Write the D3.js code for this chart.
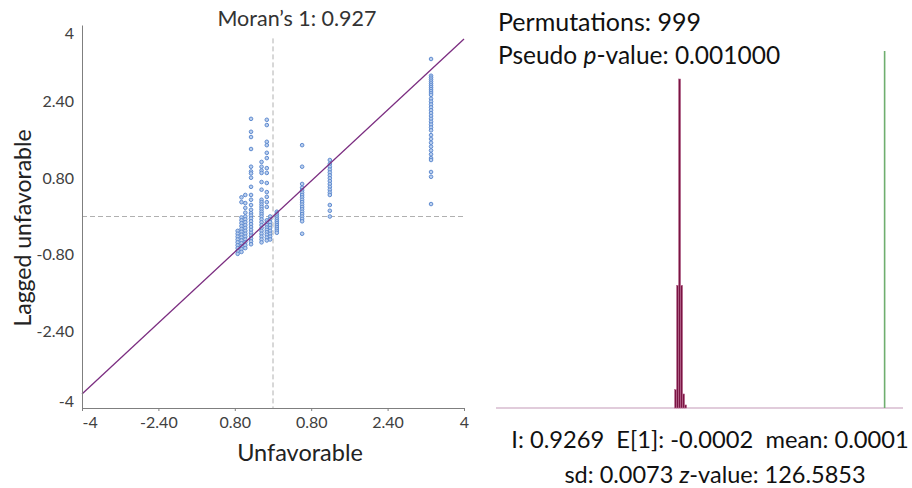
<!DOCTYPE html>
<html><head><meta charset="utf-8">
<script src="https://cdn.jsdelivr.net/npm/d3@7"></script>
<style>
html,body{margin:0;padding:0;background:#fff;}
svg{display:block;font-family:Lato,"Open Sans",sans-serif;}
</style></head>
<body><svg id="c" width="912" height="488"></svg>
<script>
// ---- data ----
const moransI = 0.927;
const xTicks = [-4, -2.4, -0.8, 0.8, 2.4, 4];
const xTickLabels = ["-4", "-2.40", "0.80", "0.80", "2.40", "4"];
const yTicks = [-4, -2.4, -0.8, 0.8, 2.4, 4];
const yTickLabels = ["-4", "-2.40", "-0.80", "0.80", "2.40", "4"];
const colX = [-0.74, -0.66, -0.58, -0.46, -0.24, -0.13, -0.06, 0.08, 0.61, 1.19, 3.31];
const colY = [
  [-0.30,-0.36,-0.42,-0.48,-0.54,-0.60,-0.66,-0.72,-0.78],
  [0.40,0.30,-0.02,-0.08,-0.14,-0.20,-0.26,-0.32,-0.38,-0.44,-0.50,-0.56,-0.62,-0.68,-0.74],
  [0.45,0.28,0.18,0.08,0.00,-0.06,-0.12,-0.18,-0.24,-0.30,-0.36,-0.42,-0.48,-0.54,-0.60,-0.66],
  [2.04,1.77,1.66,1.41,1.04,0.94,0.90,0.81,0.62,0.45,0.35,0.24,0.14,0.07,0.02,-0.04,-0.10,-0.16,-0.22,-0.28,-0.34,-0.40,-0.46,-0.52,-0.58],
  [1.14,1.04,0.96,0.91,0.72,0.56,0.35,0.30,0.25,0.20,0.15,0.10,0.05,0.00,-0.06,-0.12,-0.18,-0.24,-0.30,-0.36,-0.42,-0.48,-0.54],
  [2.02,1.91,1.56,1.49,1.33,1.22,1.01,0.91,0.70,0.51,0.41,0.30,0.20,-0.08,-0.13,-0.18,-0.23,-0.28,-0.33,-0.38,-0.44,-0.50],
  [0.00,-0.06,-0.12,-0.18,-0.24,-0.30,-0.36,-0.42,-0.48],
  [0.10,0.06,0.02,-0.02,-0.06,-0.10,-0.14,-0.18,-0.22,-0.26,-0.30,-0.34],
  [1.49,1.04,0.68,0.60,0.55,0.50,0.45,0.40,0.35,0.30,0.25,0.20,0.15,0.10,0.05,0.00,-0.05,-0.10,-0.36],
  [1.18,1.10,1.04,0.98,0.92,0.86,0.80,0.74,0.68,0.62,0.56,0.50,0.45,0.24,0.12,0.00],
  [3.29,2.94,2.90,2.86,2.82,2.78,2.74,2.70,2.66,2.62,2.58,2.54,2.46,2.40,2.34,2.28,2.22,2.16,2.10,2.04,1.98,1.92,1.86,1.80,1.70,1.62,1.54,1.46,1.38,1.30,1.22,1.18,0.93,0.83,0.26]
];
// permutation histogram
const binStart = [-0.0224, -0.0134, -0.0044, 0.0046, 0.0136, 0.0226];
const binWidth = 0.009;
const binCount = [30, 201, 539, 201, 23, 5];
const observedI = 0.9269;
const permutations = 999;
const pseudoP = "0.001000";
const statsLine1 = "I: 0.9269  E[1]: -0.0002  mean: 0.0001";
const sdText = "0.0073";
const zText = "126.5853";

// ---- scatter ----
const svg = d3.select("#c");
svg.append("rect").attr("width",912).attr("height",488).attr("fill","#fff");
const x = d3.scaleLinear([-4,4],[82,464]);
const y = d3.scaleLinear([-4,4],[408,25]);
const g = svg.append("g");

// dashed reference lines
g.append("line").attr("x1",x(0)).attr("x2",x(0)).attr("y1",y(3.72)).attr("y2",y(-4))
  .attr("stroke","#b0b0b0").attr("stroke-dasharray","5,3").attr("stroke-width",1);
g.append("line").attr("x1",x(-4)).attr("x2",x(4)).attr("y1",y(0)).attr("y2",y(0))
  .attr("stroke","#b0b0b0").attr("stroke-dasharray","5,3").attr("stroke-width",1);

// points
const pts = [];
colX.forEach((cx,i)=>colY[i].forEach(v=>pts.push([cx,v])));
g.selectAll("circle.p").data(pts).join("circle").attr("class","p")
  .attr("cx",d=>x(d[0])).attr("cy",d=>y(d[1])).attr("r",1.8)
  .attr("fill","#bcd0ee").attr("stroke","#5f8bd0").attr("stroke-width",1);

// regression line
g.append("line").attr("x1",x(-4)).attr("y1",y(-4*moransI)).attr("x2",x(4)).attr("y2",y(4*moransI))
  .attr("stroke","#7b2d80").attr("stroke-width",1.3);

// axes
const xa = g.append("g").attr("transform","translate(0,408)")
  .call(d3.axisBottom(x).tickValues(xTicks).tickFormat((d,i)=>xTickLabels[i]).tickSize(3).tickSizeOuter(0).tickPadding(6));
xa.select(".domain").attr("stroke","#7f7f7f");
xa.selectAll(".tick line").attr("stroke","#7f7f7f");
xa.selectAll(".tick text").attr("fill","#404040").style("font-size","16px").style("font-family","Lato")
  .attr("text-anchor",(d,i)=> i===0 ? "start" : "middle");
const ya = g.append("g").attr("transform","translate(82,0)")
  .call(d3.axisLeft(y).tickValues(yTicks).tickFormat((d,i)=>yTickLabels[i]).tickSize(0).tickSizeOuter(0).tickPadding(8));
ya.select(".domain").attr("stroke","#7f7f7f");
ya.selectAll(".tick text").attr("fill","#404040").style("font-size","16px").style("font-family","Lato")
  .attr("dy",(d,i)=> i===0 ? "-0.1em" : (i===yTicks.length-1 ? "0.85em" : "0.32em"));

// titles
svg.append("text").attr("x",297).attr("y",26).attr("text-anchor","middle")
  .style("font-size","21.5px").attr("fill","#333").text("Moran\u2019s 1: " + moransI.toFixed(3));
svg.append("text").attr("x",300).attr("y",461).attr("text-anchor","middle")
  .style("font-size","23.5px").attr("fill","#222").text("Unfavorable");
svg.append("text").attr("transform","translate(31,228) rotate(-90)").attr("text-anchor","middle")
  .style("font-size","23px").attr("fill","#222").text("Lagged unfavorable");

// ---- histogram ----
const hx = d3.scaleLinear([-0.83,1.01],[496,903]);
const hy = d3.scaleLinear([0,d3.max(binCount)],[408,79]);
svg.append("line").attr("x1",hx.range()[0]).attr("x2",hx.range()[1]).attr("y1",408).attr("y2",408)
  .attr("stroke","#c39ab8").attr("stroke-width",1.2);
svg.selectAll("rect.bin").data(binStart).join("rect").attr("class","bin")
  .attr("x",d=>hx(d)).attr("width",d=>hx(d+binWidth)-hx(d))
  .attr("y",(d,i)=>hy(binCount[i])).attr("height",(d,i)=>408-hy(binCount[i]))
  .attr("fill","#7a1443").attr("stroke","#b86a8f").attr("stroke-width",0.6);
svg.append("line").attr("x1",hx(observedI)).attr("x2",hx(observedI)).attr("y1",51).attr("y2",408)
  .attr("stroke","#6fae6f").attr("stroke-width",1.6);

svg.append("text").attr("x",498).attr("y",31).style("font-size","25px").attr("fill","#111")
  .text("Permutations: " + permutations);
const pt = svg.append("text").attr("x",498).attr("y",64).style("font-size","24.5px").attr("fill","#111");
pt.append("tspan").text("Pseudo ");
pt.append("tspan").style("font-style","italic").text("p");
pt.append("tspan").text("-value: " + pseudoP);

svg.append("text").attr("x",710).attr("y",448).attr("text-anchor","middle").style("font-size","23.7px")
  .attr("fill","#111").attr("xml:space","preserve").style("white-space","pre").text(statsLine1);
const st = svg.append("text").attr("x",715).attr("y",483).attr("text-anchor","middle").style("font-size","23.5px").attr("fill","#111");
st.append("tspan").text("sd: " + sdText + " ");
st.append("tspan").style("font-style","italic").text("z");
st.append("tspan").text("-value: " + zText);
</script>
</body></html>
